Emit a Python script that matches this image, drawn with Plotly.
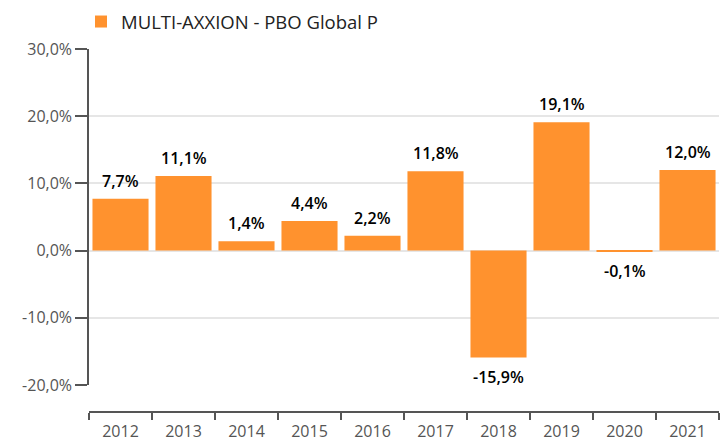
import plotly.graph_objects as go

years = ["2012", "2013", "2014", "2015", "2016", "2017", "2018", "2019", "2020", "2021"]
returns = [7.7, 11.1, 1.4, 4.4, 2.2, 11.8, -15.9, 19.1, -0.1, 12.0]
series_name = "MULTI-AXXION - PBO Global P"
y_ticks = [-20, -10, 0, 10, 20, 30]
y_tick_labels = ["-20,0%", "-10,0%", "0,0%", "10,0%", "20,0%", "30,0%"]

fig = go.Figure()
fig.add_trace(go.Bar(
    x=years, y=returns, name=series_name,
    marker=dict(color="#FF922E", line=dict(width=0)),
    showlegend=True, hoverinfo="skip",
))

# category axis: annotations use the category index
for i, v in enumerate(returns):
    fig.add_annotation(
        x=i, y=v, xref="x", yref="y",
        text=f"{v:.1f}%".replace(".", ","),
        showarrow=False, yanchor="middle",
        yshift=18 if v >= 0 else -20,
        font=dict(family="Open Sans", size=16, color="#000000", weight=600),
    )

W, H = 720, 442
top, bottom, left, right = 49, 30, 89, 1
plot_h = H - top - bottom
plot_w = W - left - right
dom_bottom = 27 / plot_h

fig.update_layout(
    width=W, height=H,
    margin=dict(l=left, r=right, t=top, b=bottom, autoexpand=False),
    paper_bgcolor="white", plot_bgcolor="white",
    separators=",.",
    bargap=0.11,
    font=dict(family="Open Sans", color="#555555", size=16),
    showlegend=True,
    legend=dict(x=-8 / plot_w, y=1 + (49 - 22) / plot_h, xanchor="left", yanchor="middle",
                orientation="h",
                font=dict(family="Open Sans", size=18.5, color="#222222"),
                bgcolor="rgba(0,0,0,0)", borderwidth=0),
    xaxis=dict(
        type="category", anchor="free", position=0,
        categoryorder="array", categoryarray=years,
        range=[-0.5, len(years) - 0.5],
        showline=True, linecolor="#555555", linewidth=1.5,
        ticks="outside", ticklen=7, tickcolor="#555555", tickwidth=1.5,
        tickson="boundaries", showgrid=False, automargin=False,
        ticklabelstandoff=5,
        tickfont=dict(family="Open Sans", size=16, color="#555555"),
    ),
    yaxis=dict(
        domain=[dom_bottom, 1], range=[-20, 30],
        tickvals=y_ticks, ticktext=y_tick_labels,
        showline=True, linecolor="#555555", linewidth=1.5,
        ticks="outside", ticklen=12, tickcolor="#555555", tickwidth=1.5,
        showgrid=True, gridcolor="#e6e6e6", gridwidth=1.5,
        zeroline=False, automargin=False,
        tickfont=dict(family="Open Sans", size=16, color="#555555"),
    ),
)

fig.write_html("out.html", config={"displayModeBar": False},
               post_script="document.body.style.margin='0';")
